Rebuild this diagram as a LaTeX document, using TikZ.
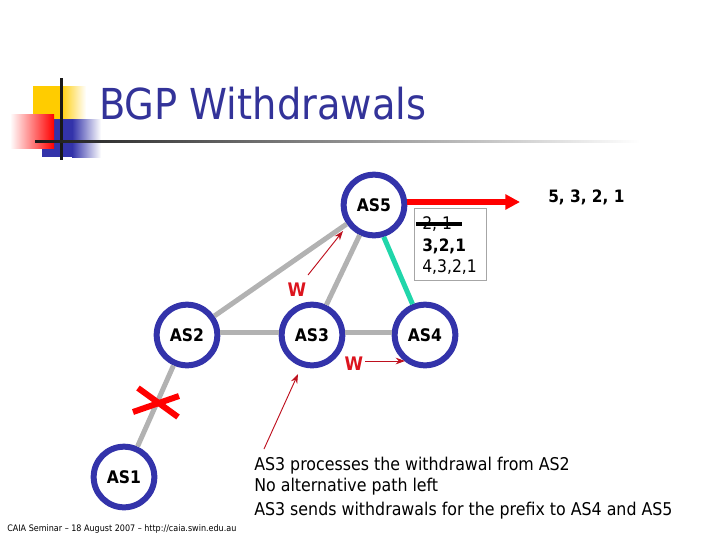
\documentclass[tikz,border=0pt]{standalone}
\usepackage{fontspec}
\setmainfont{DejaVu Sans}
\newfontfamily\condfont{DejaVu Sans Condensed}
\usetikzlibrary{arrows.meta}
\definecolor{asblue}{RGB}{51,51,170}
\definecolor{titleblue}{RGB}{51,51,153}
\definecolor{linkgrey}{RGB}{178,178,178}
\definecolor{linkteal}{RGB}{32,214,170}
\definecolor{notered}{RGB}{190,16,30}
\definecolor{wred}{RGB}{220,20,30}
\definecolor{decoyellow}{RGB}{255,204,0}
\tikzset{
  asnode/.style={circle,draw=asblue,fill=white,line width=4.5pt,minimum size=45.5pt,inner sep=0pt,font=\condfont\bfseries\fontsize{13}{15}\selectfont,text=black},
  link/.style={draw=linkgrey,line width=3.75pt},
  note/.style={-{Stealth[length=7pt,width=5pt]},draw=notered,line width=0.7pt},
  wlabel/.style={font=\condfont\bfseries\fontsize{14}{16}\selectfont,text=wred,inner sep=0pt},
  body/.style={font=\condfont\fontsize{13.2}{15}\selectfont,text=black,inner sep=0pt,anchor=west},
  pathtext/.style={font=\condfont\fontsize{13}{15}\selectfont,text=black,inner sep=0pt,anchor=west},
}
\begin{document}
\begin{tikzpicture}[x=0.75pt,y=-0.75pt]
\useasboundingbox (0,0) rectangle (720,540);
% decoration
\shade[left color=decoyellow,right color=white] (60,86) rectangle (86,120);
\fill[decoyellow] (33,86) rectangle (60,120);
\shade[left color=asblue,right color=white] (72,119) rectangle (101,157);
\fill[asblue] (42,119) rectangle (72,157);
\shade[shading angle=45,left color=white,right color=red] (10,114) rectangle (54,148);
\fill[black!90] (60,78) rectangle (62.5,160);
\shade[left color=black!90,right color=white] (35,140) rectangle (640,142.5);
\node[font=\condfont\fontsize{32}{38}\selectfont,text=titleblue,anchor=base west,inner sep=0pt] (title) at (99,119) {BGP Withdrawals};
% autonomous systems
\node[asnode] (AS5) at (374,205) {AS5};
\node[asnode] (AS3) at (312,335) {AS3};
\node[asnode] (AS4) at (425,335) {AS4};
\node[asnode] (AS2) at (187,335) {AS2};
\node[asnode] (AS1) at (124,477) {AS1};
% links
\draw[link] (AS2) -- (AS5);
\draw[link] (AS3) -- (AS5);
\draw[link] ([yshift=2pt]AS2.east) -- ([yshift=2pt]AS3.west);
\draw[link] ([yshift=2pt]AS3.east) -- ([yshift=2pt]AS4.west);
\draw[link] (AS1) -- (AS2);
\draw[draw=linkteal,line width=3.75pt] (AS5.-73) -- (AS4.112);
% cross
\coordinate (xa) at (138,388);
\coordinate (xb) at (178,417);
\coordinate (xc) at (133,412);
\coordinate (xd) at (179,396);
\draw[red,line width=4.5pt] (xa) -- (xb);
\draw[red,line width=4.5pt] (xc) -- (xd);
% table
\node[draw=black!35,line width=0.6pt,fill=white,minimum width=53.5pt,minimum height=54.5pt,inner sep=0pt] (tbl) at (450.5,244.5) {};
\node[pathtext] (p1) at (422,224) {2, 1};
\coordinate (sa) at (416,224);
\coordinate (sb) at (462,224);
\draw[black,line width=3.6pt] (sa) -- (sb);
\node[pathtext,font=\condfont\bfseries\fontsize{12.8}{15}\selectfont] (p2) at (422,246) {3,2,1};
\node[pathtext] (p3) at (422,267) {4,3,2,1};
% advertised path
\coordinate (adv) at (520,202);
\draw[-{Triangle[length=11pt,width=11pt]},draw=red,fill=red,line width=4pt] (AS5.east |- adv) -- (adv);
\node[font=\condfont\bfseries\fontsize{12.8}{15}\selectfont,inner sep=0pt,anchor=west] (best) at (548,197) {5, 3, 2, 1};
% withdrawals
\node[wlabel] (w1) at (297,290) {W};
\coordinate (w1a) at (308,275);
\coordinate (w1b) at (343,231);
\draw[note] (w1a) -- (w1b);
\node[wlabel] (w2) at (354,364) {W};
\coordinate (w2a) at (365,361);
\coordinate (w2b) at (405,361);
\draw[note] (w2a) -- (w2b);
% explanation
\coordinate (na) at (264,449);
\coordinate (nb) at (298,374);
\draw[note] (na) -- (nb);
\node[body] (t1) at (254,466) {AS3 processes the withdrawal from AS2};
\node[body] (t2) at (254,487) {No alternative path left};
\node[body] (t3) at (254,511) {AS3 sends withdrawals for the prefix to AS4 and AS5};
\node[font=\condfont\fontsize{6.7}{9}\selectfont,inner sep=0pt,anchor=west] (foot) at (7,529) {CAIA Seminar – 18 August 2007 – http://caia.swin.edu.au};
\end{tikzpicture}
\end{document}
